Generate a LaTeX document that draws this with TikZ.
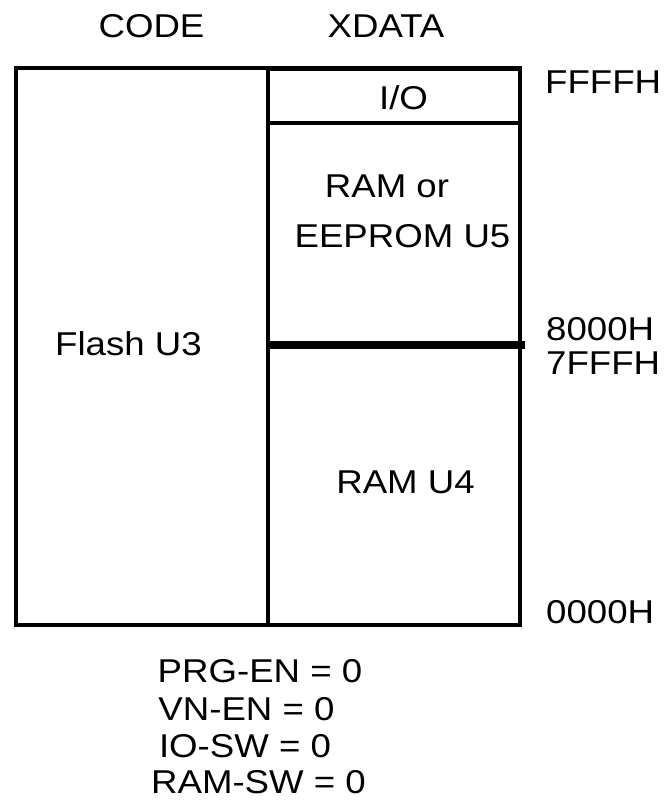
\documentclass[tikz,border=0pt]{standalone}
\usepackage{fontspec}
\setmainfont{Liberation Sans}
\newcommand{\wideText}[1]{\scalebox{1.11}[1]{#1}}
\begin{document}
\begin{tikzpicture}[x=1pt,y=-1pt,
  box/.style={draw=black,line width=4pt},
  lbl/.style={font=\fontsize{33}{38}\selectfont,inner sep=0pt,anchor=base},
  addr/.style={lbl,anchor=base west}]
\useasboundingbox (0,0) rectangle (668,801);
\coordinate (tl) at (15.5,68);
\coordinate (tm) at (267.5,68);
\coordinate (tr) at (520,68);
\coordinate (bl) at (15.5,625);
\coordinate (bm) at (267.5,625);
\coordinate (br) at (520,625);
\draw[box] (tl) rectangle (br);
\draw[box] (tm) -- (bm);
\draw[draw=black,line width=5pt] (tm) -- (tr);
\coordinate (ioL) at (267.5,123);
\coordinate (ioR) at (520,123);
\draw[box] (ioL) -- (ioR);
\coordinate (mL) at (267.5,344.5);
\coordinate (mR) at (525,344.5);
\draw[draw=black,line width=8pt] (mL) -- (mR);
\node[lbl] (code) at (151.5,37) {\wideText{CODE}};
\node[lbl] (xdata) at (386,37) {\wideText{XDATA}};
\node[lbl] (io) at (403.5,109) {\wideText{I/O}};
\node[lbl] (ramor) at (387,197) {\wideText{RAM or}};
\node[lbl] (eeprom) at (402.5,247) {\wideText{EEPROM U5}};
\node[lbl] (flash) at (128.5,355) {\wideText{Flash U3}};
\node[lbl] (ramu4) at (405.5,493) {\wideText{RAM U4}};
\node[addr] (ffff) at (545,93) {\wideText{FFFFH}};
\node[addr] (h8000) at (546,340) {\wideText{8000H}};
\node[addr] (h7fff) at (546,374) {\wideText{7FFFH}};
\node[addr] (h0000) at (546,623) {\wideText{0000H}};
\node[lbl] (prg) at (260,682) {\wideText{PRG-EN = 0}};
\node[lbl] (vn) at (246.5,720) {\wideText{VN-EN = 0}};
\node[lbl] (iosw) at (245,757) {\wideText{IO-SW = 0}};
\node[lbl] (ramsw) at (258.5,793) {\wideText{RAM-SW = 0}};
\end{tikzpicture}
\end{document}
